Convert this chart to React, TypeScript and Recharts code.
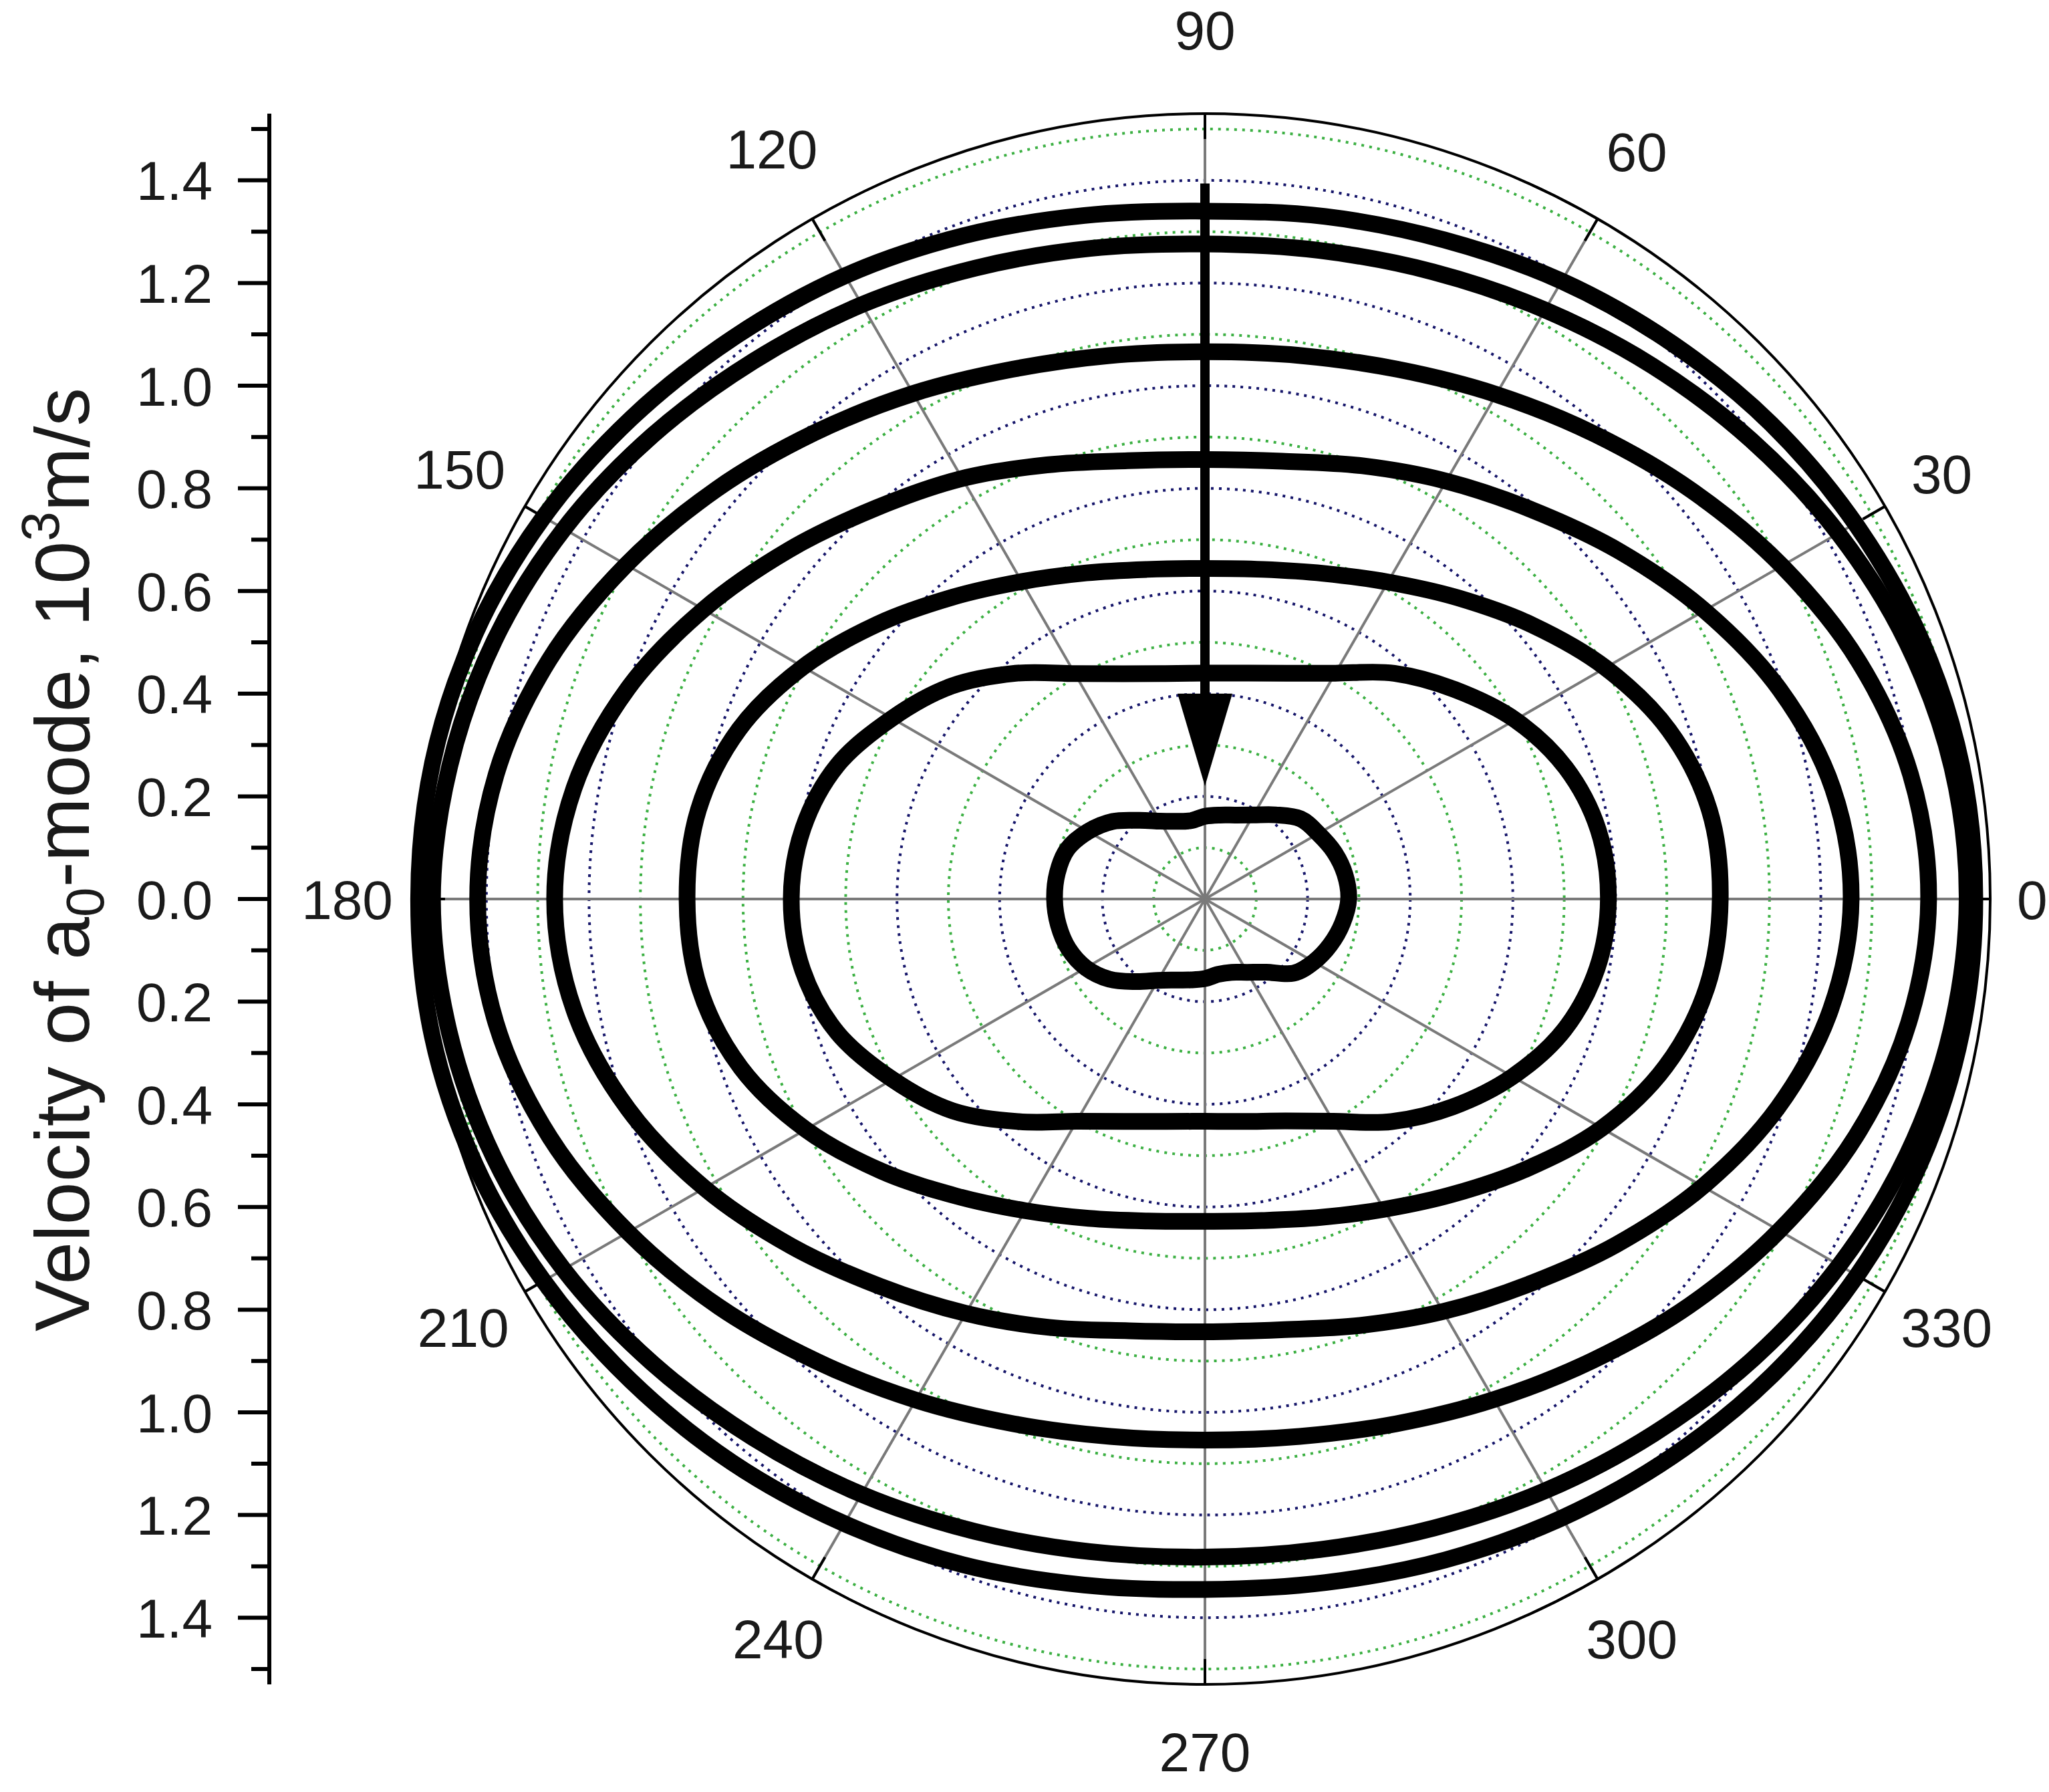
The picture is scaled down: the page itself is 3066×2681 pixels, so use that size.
import React from 'react';
import { RadarChart, Radar, PolarGrid, PolarAngleAxis, PolarRadiusAxis, LineChart, YAxis } from 'recharts';

const W = 3066;
const H = 2681;
const CX = 1803;
const CY = 1345;
const PX_PER_UNIT = 768;
const R_MAX = 1.53; // outer circle of the plot
const R_SCALE = 2; // radius axis domain of the curve layer
const R_OUT = R_MAX * PX_PER_UNIT;
const AXIS_X = 403;
const FONT = 'Liberation Sans, Arial, Helvetica, sans-serif';
const FS = 82;

// polar angle of every sample, degrees
const ANGLES = [0, 10, 20, 30, 40, 50, 60, 70, 80, 90, 100, 110, 120, 130, 140, 150, 160, 170,
  180, 190, 200, 210, 220, 230, 240, 250, 260, 270, 280, 290, 300, 310, 320, 330, 340, 350];

// velocity curves, 10^3 m/s, outermost first
const C1 = [1.5, 1.497, 1.484, 1.463, 1.44, 1.414, 1.39, 1.366, 1.35, 1.34, 1.352, 1.375, 1.402, 1.428, 1.458, 1.488, 1.513, 1.528,
  1.532, 1.529, 1.513, 1.488, 1.46, 1.433, 1.405, 1.38, 1.357, 1.345, 1.352, 1.37, 1.392, 1.417, 1.443, 1.467, 1.486, 1.497];
const C2 = [1.485, 1.478, 1.456, 1.425, 1.39, 1.356, 1.325, 1.3, 1.283, 1.276, 1.287, 1.308, 1.337, 1.368, 1.405, 1.442, 1.473, 1.494,
  1.505, 1.495, 1.474, 1.443, 1.406, 1.37, 1.339, 1.311, 1.291, 1.282, 1.287, 1.304, 1.33, 1.36, 1.394, 1.427, 1.456, 1.476];
const C3 = [1.41, 1.396, 1.355, 1.298, 1.238, 1.182, 1.135, 1.098, 1.075, 1.066, 1.075, 1.098, 1.137, 1.185, 1.242, 1.302, 1.36, 1.402,
  1.417, 1.402, 1.358, 1.298, 1.236, 1.176, 1.127, 1.088, 1.063, 1.054, 1.063, 1.088, 1.126, 1.174, 1.232, 1.292, 1.35, 1.392];
const C4 = [1.259, 1.242, 1.192, 1.124, 1.054, 0.99, 0.94, 0.898, 0.866, 0.856, 0.867, 0.9, 0.946, 0.995, 1.058, 1.128, 1.197, 1.248,
  1.267, 1.248, 1.196, 1.126, 1.052, 0.985, 0.932, 0.888, 0.854, 0.843, 0.852, 0.884, 0.928, 0.98, 1.047, 1.12, 1.188, 1.238];
const C5 = [1.004, 0.998, 0.962, 0.901, 0.831, 0.766, 0.713, 0.675, 0.652, 0.644, 0.652, 0.676, 0.714, 0.767, 0.833, 0.904, 0.966, 1.002,
  1.009, 1.0, 0.962, 0.898, 0.824, 0.755, 0.701, 0.662, 0.637, 0.628, 0.636, 0.66, 0.698, 0.751, 0.818, 0.893, 0.955, 0.993];
const C6 = [0.786, 0.778, 0.748, 0.698, 0.635, 0.574, 0.508, 0.468, 0.447, 0.44, 0.446, 0.467, 0.507, 0.574, 0.645, 0.704, 0.762, 0.795,
  0.806, 0.796, 0.762, 0.703, 0.642, 0.566, 0.5, 0.461, 0.44, 0.433, 0.44, 0.46, 0.5, 0.566, 0.63, 0.692, 0.745, 0.776];
const C7 = [0.28, 0.277, 0.268, 0.255, 0.243, 0.214, 0.189, 0.174, 0.166, 0.161, 0.155, 0.161, 0.175, 0.2, 0.235, 0.263, 0.285, 0.292,
  0.293, 0.29, 0.283, 0.268, 0.243, 0.21, 0.183, 0.168, 0.16, 0.155, 0.149, 0.152, 0.165, 0.186, 0.225, 0.245, 0.26, 0.272];

const SERIES = ['c1', 'c2', 'c3', 'c4', 'c5', 'c6', 'c7'];
const VALUES = [C1, C2, C3, C4, C5, C6, C7];

const ANGLE_LABELS = [0, 30, 60, 90, 120, 150, 180, 210, 240, 270, 300, 330];
const LEFT_TICKS = [-1.5, -1.4, -1.3, -1.2, -1.1, -1.0, -0.9, -0.8, -0.7, -0.6, -0.5, -0.4, -0.3, -0.2, -0.1, 0,
  0.1, 0.2, 0.3, 0.4, 0.5, 0.6, 0.7, 0.8, 0.9, 1.0, 1.1, 1.2, 1.3, 1.4, 1.5];
const GREEN_RINGS = [0.1, 0.3, 0.5, 0.7, 0.9, 1.1, 1.3, 1.5];
const BLUE_RINGS = [0.2, 0.4, 0.6, 0.8, 1.0, 1.2, 1.4];

// arrow on the 90 deg ray: tail, head base, tip (radial values)
const ARROW_TAIL = 1.394;
const ARROW_BASE = 0.4;
const ARROW_TIP = 0.22;

// the category angle axis adds one band to every point, so start one band early
const STEP = 360 / ANGLES.length;

const rows = ANGLES.map((a, i) => {
  const row: Record<string, number> = { angle: a };
  SERIES.forEach((k, j) => { row[k] = VALUES[j][i]; });
  return row;
});

const toPx = (v: number) => v * PX_PER_UNIT;

function closedSpline(pts: { x: number; y: number }[]) {
  const n = pts.length;
  if (n < 3) return '';
  let d = `M${pts[0].x},${pts[0].y}`;
  for (let i = 0; i < n; i++) {
    const p0 = pts[(i - 1 + n) % n];
    const p1 = pts[i];
    const p2 = pts[(i + 1) % n];
    const p3 = pts[(i + 2) % n];
    const c1x = p1.x + (p2.x - p0.x) / 6;
    const c1y = p1.y + (p2.y - p0.y) / 6;
    const c2x = p2.x - (p3.x - p1.x) / 6;
    const c2y = p2.y - (p3.y - p1.y) / 6;
    d += ` C${c1x},${c1y} ${c2x},${c2y} ${p2.x},${p2.y}`;
  }
  return d + ' Z';
}

const SmoothShape = (props: any) => (
  <path d={closedSpline(props.points || [])} fill="none" stroke="#000" strokeWidth={25} strokeLinejoin="round" />
);

const AngleTick = (props: any) => {
  const a = Number(props.payload?.value);
  if (a % 30 !== 0) return <g />;
  const rad = (a * Math.PI) / 180;
  const c = Math.cos(rad);
  const s = Math.sin(rad);
  const label = String(a);
  const halfW = 0.278 * FS * label.length;
  const vert = s >= 0 ? 85 : 60;
  const rl = R_OUT + 40 + Math.sqrt((vert * s) ** 2 + (halfW * c) ** 2);
  return (
    <g>
      <line x1={CX + R_OUT * c} y1={CY - R_OUT * s} x2={CX + (R_OUT - 38) * c} y2={CY - (R_OUT - 38) * s}
        stroke="#000" strokeWidth={4} />
      <text x={CX + rl * c} y={CY - rl * s} dy={FS * 0.36} textAnchor="middle" fontSize={FS}
        fontFamily={FONT} fill="#1a1a1a">{label}</text>
    </g>
  );
};

const LeftTick = (props: any) => {
  const { y, payload } = props;
  const v = Number(payload?.value);
  const major = Math.round(Math.abs(v) * 10) % 2 === 0;
  const len = major ? 47 : 27;
  return (
    <g>
      <line x1={AXIS_X} x2={AXIS_X - len} y1={y} y2={y} stroke="#000" strokeWidth={6} />
      {major && (
        <text x={318} y={y} dy={FS * 0.36} textAnchor="end" fontSize={FS} fontFamily={FONT} fill="#1a1a1a">
          {Math.abs(v).toFixed(1)}
        </text>
      )}
    </g>
  );
};

const layer: React.CSSProperties = { position: 'absolute', left: 0, top: 0 };

export default function App() {
  return (
    <div style={{ position: 'absolute', left: 0, top: 0, width: W, height: H, background: '#fff' }}>
      <div style={layer}>
        <LineChart width={700} height={H} data={rows}
          margin={{ top: CY - R_OUT, bottom: H - (CY + R_OUT), left: 0, right: 0 }}>
          <YAxis type="number" domain={[-R_MAX, R_MAX]} ticks={LEFT_TICKS} interval={0} width={AXIS_X}
            allowDataOverflow axisLine={{ stroke: '#000', strokeWidth: 6 }} tickLine={false} tick={LeftTick} />
        </LineChart>
      </div>
      {/* grid, outer circle and angle labels */}
      <div style={layer}>
        <RadarChart width={W} height={H} data={rows} cx={CX} cy={CY} outerRadius={R_OUT}
          startAngle={-STEP} endAngle={360 - STEP} margin={{ top: 0, right: 0, bottom: 0, left: 0 }}>
          <PolarGrid gridType="circle" radialLines={false} polarAngles={[]} polarRadius={GREEN_RINGS.map(toPx)}
            stroke="#3cb043" strokeWidth={4} strokeDasharray="4 8" />
          <PolarGrid gridType="circle" radialLines={false} polarAngles={[]} polarRadius={BLUE_RINGS.map(toPx)}
            stroke="#16166a" strokeWidth={4} strokeDasharray="4 8" />
          <PolarGrid gridType="circle" radialLines polarAngles={ANGLE_LABELS} polarRadius={[]}
            stroke="#7a7a7a" strokeWidth={4} />
          <PolarAngleAxis dataKey="angle" type="category" tickLine={false} tick={AngleTick}
            axisLineType="circle" axisLine={{ stroke: '#000', strokeWidth: 4 }} />
          <PolarRadiusAxis type="number" domain={[0, R_MAX]} tick={false} axisLine={false} />
        </RadarChart>
      </div>
      {/* velocity curves */}
      <div style={layer}>
        <RadarChart width={W} height={H} data={rows} cx={CX} cy={CY} outerRadius={R_SCALE * PX_PER_UNIT}
          startAngle={-STEP} endAngle={360 - STEP} margin={{ top: 0, right: 0, bottom: 0, left: 0 }}>
          <PolarAngleAxis dataKey="angle" type="category" tick={false} tickLine={false} axisLine={false} />
          <PolarRadiusAxis type="number" domain={[0, R_SCALE]} tick={false} axisLine={false} />
          {SERIES.map((k) => (
            <Radar key={k} dataKey={k} stroke="#000" strokeWidth={25} fill="none" fillOpacity={0}
              dot={false} isAnimationActive={false} shape={SmoothShape} />
          ))}
        </RadarChart>
      </div>
      <svg width={W} height={H} style={{ ...layer, pointerEvents: 'none' }}>
        <line x1={CX} x2={CX} y1={CY - toPx(ARROW_TAIL)} y2={CY - toPx(ARROW_BASE) + 4} stroke="#000" strokeWidth={14} />
        <polygon
          points={`${CX - 41},${CY - toPx(ARROW_BASE)} ${CX + 41},${CY - toPx(ARROW_BASE)} ${CX},${CY - toPx(ARROW_TIP)}`}
          fill="#000" />
        <text x={133} y={1286} transform="rotate(-90 133 1286)" textAnchor="middle" fontSize={115}
          fontFamily={FONT} fill="#1a1a1a">
          Velocity of a<tspan dy={22} fontSize={80}>0</tspan>
          <tspan dy={-22}>-mode, 10</tspan>
          <tspan dy={-45} fontSize={80}>3</tspan>
          <tspan dy={45}>m/s</tspan>
        </text>
      </svg>
    </div>
  );
}
